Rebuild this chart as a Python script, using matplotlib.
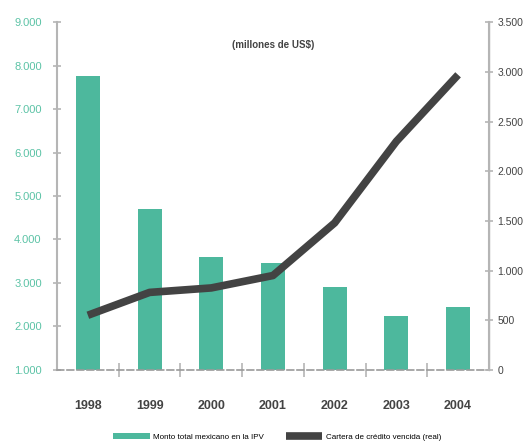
import matplotlib.pyplot as plt
from matplotlib.ticker import FuncFormatter

years = ['1998', '1999', '2000', '2001', '2002', '2003', '2004']
monto_total = [7750, 4700, 3600, 3450, 2900, 2250, 2450]
cartera_vencida = [550, 780, 825, 950, 1480, 2300, 2970]

left_ticks = [1000, 2000, 3000, 4000, 5000, 6000, 7000, 8000, 9000]
right_ticks = [0, 500, 1000, 1500, 2000, 2500, 3000, 3500]

teal = '#4db89d'
teal_text = '#5cc3a6'
dark = '#434343'
grey = '#b5b5b5'

plt.rcParams['font.family'] = ['Liberation Sans', 'DejaVu Sans']


def miles(v, pos):
    return f'{int(v):,}'.replace(',', '.')


fig = plt.figure(figsize=(5.28, 4.43), dpi=100)
ax1 = fig.add_axes([0.108, 0.165, 0.818, 0.785])

x = range(len(years))
ax1.bar(x, [v - 1000 for v in monto_total], bottom=1000, width=0.39,
        color=teal, label='Monto total mexicano en la IPV', zorder=2)
ax1.set_xlim(-0.5, len(years) - 0.5)
ax1.set_ylim(1000, 9000)
ax1.set_yticks(left_ticks)
ax1.yaxis.set_major_formatter(FuncFormatter(miles))
ax1.tick_params(axis='y', direction='inout', length=6, width=1.2, color=grey,
                labelcolor=teal_text, labelsize=8, pad=8)

# year labels centred on bars, tick marks between categories
ax1.set_xticks([i + 0.5 for i in range(len(years) - 1)])
ax1.set_xticklabels([])
ax1.set_xticks(list(x), minor=True)
ax1.set_xticklabels(years, minor=True, fontsize=9, fontweight='bold', color=dark)
ax1.tick_params(axis='x', which='major', direction='inout', length=10, width=1.2, color=grey)
ax1.tick_params(axis='x', which='minor', length=0, pad=22)

ax1.spines['top'].set_visible(False)
ax1.spines['left'].set_color(grey)
ax1.spines['left'].set_linewidth(1.5)
ax1.spines['bottom'].set_color('#9a9a9a')
ax1.spines['bottom'].set_linewidth(1.2)
ax1.spines['bottom'].set_linestyle((0, (4, 2)))

ax2 = ax1.twinx()
ax2.plot(list(x), cartera_vencida, color=dark, linewidth=5.5,
         solid_capstyle='butt', label='Cartera de crédito vencida (real)', zorder=3)
ax2.set_ylim(0, 3500)
ax2.set_yticks(right_ticks)
ax2.yaxis.set_major_formatter(FuncFormatter(miles))
ax2.tick_params(axis='y', direction='inout', length=6, width=1.2, color=grey,
                labelcolor=dark, labelsize=7.5, pad=3)
for t in ax2.yaxis.get_major_ticks()[4:]:
    t.tick2line.set_color('#a9dccb')
ax2.spines['right'].set_color(grey)
ax2.spines['right'].set_linewidth(1.5)
for side in ['top', 'left', 'bottom']:
    ax2.spines[side].set_visible(False)

ax1.text(0.5, 0.935, '(millones de US$)', transform=ax1.transAxes,
         ha='center', va='center', fontsize=7, fontweight='bold', color=dark)

# legend below the axes
h1, l1 = ax1.get_legend_handles_labels()
h2, l2 = ax2.get_legend_handles_labels()
fig.legend(h1 + h2, l1 + l2, loc='lower center', bbox_to_anchor=(0.525, -0.012),
           ncol=2, frameon=False, fontsize=5.8, handlelength=4.5, handleheight=0.7,
           columnspacing=2.8, handletextpad=0.4)

fig.savefig('out.png', dpi=100)
